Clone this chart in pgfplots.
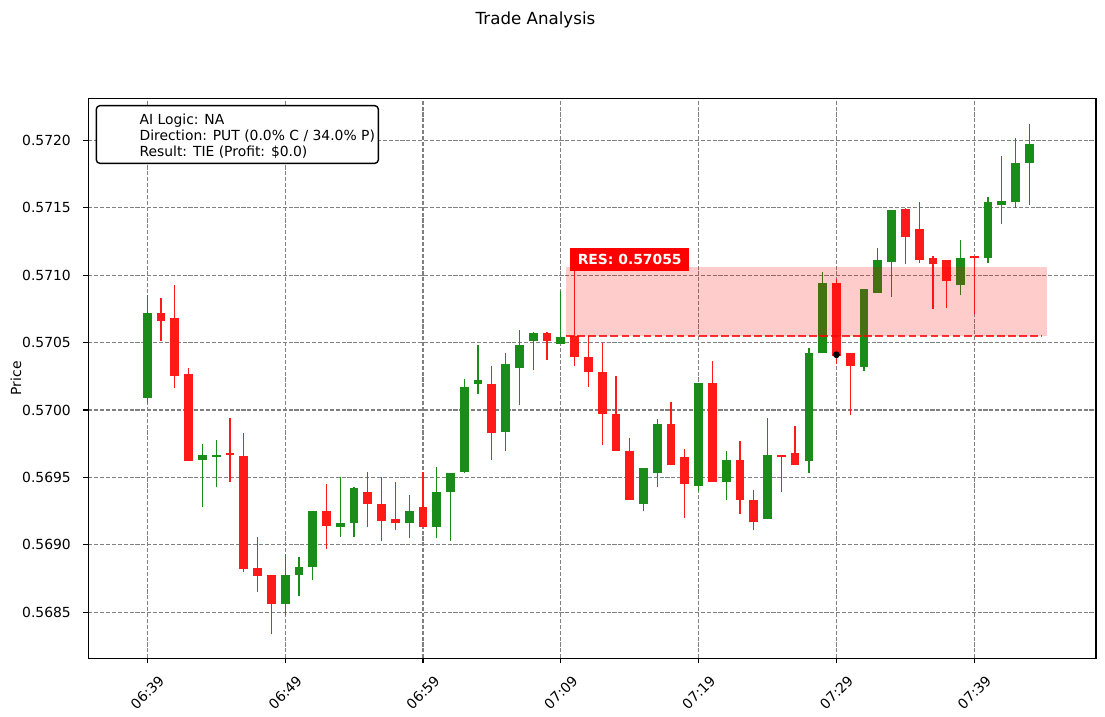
\documentclass[border=0pt]{standalone}
\usepackage{fontspec}
\setmainfont{DejaVu Sans}
\usepackage{pgfplots}
\pgfplotsset{compat=1.18}
\usepackage{pgfplotstable}
\definecolor{cgreen}{RGB}{26,140,26}
\definecolor{cred}{RGB}{255,26,26}

% t = minutes after 06:39; o h l c
\pgfplotstableread{
t o h l c
0 0.57009 0.57085 0.57005 0.57072
4 0.56963 0.56975 0.56928 0.56967
5 0.56965 0.56978 0.56943 0.56967
10 0.56856 0.56893 0.56848 0.56878
11 0.56878 0.56891 0.56862 0.56884
12 0.56884 0.56925 0.56874 0.56925
14 0.56913 0.56950 0.56906 0.56916
15 0.56916 0.56943 0.56906 0.56942
19 0.56916 0.56937 0.56905 0.56925
21 0.56913 0.56958 0.56905 0.56939
22 0.56939 0.56953 0.56903 0.56953
23 0.56954 0.57023 0.56953 0.57017
24 0.57019 0.57048 0.57012 0.57022
26 0.56984 0.57042 0.56970 0.57034
27 0.57031 0.57059 0.57004 0.57048
28 0.57051 0.57058 0.57030 0.57057
30 0.57049 0.57088 0.57049 0.57054
36 0.56930 0.56957 0.56925 0.56957
37 0.56953 0.56993 0.56943 0.56990
40 0.56944 0.57020 0.56940 0.57020
42 0.56947 0.56970 0.56933 0.56963
45 0.56919 0.56994 0.56919 0.56967
48 0.56962 0.57046 0.56953 0.57042
49 0.57042 0.57102 0.57042 0.57094
52 0.57032 0.57090 0.57029 0.57090
53 0.57087 0.57120 0.57087 0.57111
54 0.57110 0.57148 0.57084 0.57148
59 0.57093 0.57126 0.57085 0.57113
61 0.57113 0.57158 0.57109 0.57154
62 0.57152 0.57188 0.57138 0.57155
63 0.57154 0.57202 0.57150 0.57183
64 0.57183 0.57212 0.57152 0.57197
}\greentab

\pgfplotstableread{
t o h l c
1 0.57072 0.57083 0.57051 0.57066
2 0.57068 0.57093 0.57016 0.57025
3 0.57027 0.57031 0.56962 0.56962
6 0.56968 0.56994 0.56947 0.56967
7 0.56966 0.56983 0.56880 0.56882
8 0.56883 0.56906 0.56865 0.56877
9 0.56878 0.56878 0.56834 0.56856
13 0.56925 0.56945 0.56897 0.56914
16 0.56939 0.56954 0.56913 0.56930
17 0.56930 0.56950 0.56903 0.56918
18 0.56919 0.56947 0.56911 0.56916
20 0.56928 0.56954 0.56913 0.56913
25 0.57019 0.57033 0.56963 0.56983
29 0.57057 0.57058 0.57037 0.57051
31 0.57055 0.57110 0.57033 0.57039
32 0.57039 0.57055 0.57017 0.57028
33 0.57028 0.57050 0.56974 0.56997
34 0.56997 0.57025 0.56970 0.56970
35 0.56970 0.56979 0.56933 0.56933
38 0.56990 0.57006 0.56959 0.56959
39 0.56965 0.56971 0.56920 0.56945
41 0.57020 0.57036 0.56947 0.56947
43 0.56963 0.56977 0.56923 0.56933
44 0.56933 0.56941 0.56911 0.56917
46 0.56967 0.56967 0.56939 0.56965
47 0.56968 0.56988 0.56959 0.56959
50 0.57094 0.57097 0.57034 0.57040
51 0.57042 0.57042 0.56996 0.57033
55 0.57149 0.57150 0.57108 0.57128
56 0.57134 0.57154 0.57109 0.57111
57 0.57113 0.57114 0.57075 0.57108
58 0.57111 0.57111 0.57076 0.57096
60 0.57114 0.57114 0.57071 0.57113
}\redtab

\begin{document}
\begin{tikzpicture}
\begin{axis}[
  scale only axis, width=725.5bp, height=403.2bp,
  xmin=-4.28, xmax=68.83, ymin=0.568159, ymax=0.572311,
  clip=false,
  axis line style={line width=0.8bp},
  tick align=outside, major tick length=3.5bp,
  every tick/.style={line width=0.8bp, black},
  xtick pos=left, ytick pos=left,
  xtick={0,10,20,30,40,50,60},
  xticklabels={06:39,06:49,06:59,07:09,07:19,07:29,07:39},
  ytick={0.5685,0.569,0.5695,0.57,0.5705,0.571,0.5715,0.572},
  yticklabels={0.5685,0.5690,0.5695,0.5700,0.5705,0.5710,0.5715,0.5720},
  grid=major,
  major grid style={color=gray, line width=0.8bp, dash pattern=on 2.96bp off 1.28bp},
  ticklabel style={font=\fontsize{10bp}{12bp}\selectfont},
  xticklabel style={yshift=-21bp, rotate=45, anchor=center},
  yticklabel style={anchor=east, inner sep=0pt, xshift=-8.9bp},
]
% wicks
\addplot[draw=none, mark=none, forget plot,
  error bars/.cd, y dir=plus, y explicit, error mark=none,
  error bar style={draw=cgreen, line width=0.9bp}]
  table[x=t, y=l, y error expr=\thisrow{h}-\thisrow{l}] {\greentab};
\addplot[draw=none, mark=none, forget plot,
  error bars/.cd, y dir=plus, y explicit, error mark=none,
  error bar style={draw=cred, line width=0.9bp}]
  table[x=t, y=l, y error expr=\thisrow{h}-\thisrow{l}] {\redtab};
% bodies
\addplot[draw=none, mark=none, forget plot,
  error bars/.cd, y dir=plus, y explicit, error mark=none,
  error bar style={draw=cgreen, line width=6.3bp}]
  table[x=t, y=o, y error expr=\thisrow{c}-\thisrow{o}] {\greentab};
\addplot[draw=none, mark=none, forget plot,
  error bars/.cd, y dir=plus, y explicit, error mark=none,
  error bar style={draw=cred, line width=6.3bp}]
  table[x=t, y=c, y error expr=\thisrow{o}-\thisrow{c}] {\redtab};
% result zone
\addplot[fill=red, fill opacity=0.2, draw=none, forget plot]
  coordinates {(30.4,0.57055) (65.25,0.57055) (65.25,0.57106) (30.4,0.57106)};
\addplot[red, opacity=0.8, line width=1.5bp, dash pattern=on 5.55bp off 2.4bp, forget plot]
  coordinates {(30.4,0.57055) (64.9,0.57055)};
% entry marker
\addplot[only marks, mark=*, mark size=2.2bp, black, forget plot]
  coordinates {(50,0.57041)};

\node[fill=red, text=white, font=\bfseries\fontsize{10bp}{12bp}\selectfont,
  anchor=west, inner xsep=5.4bp, inner ysep=4.3bp, text height=7.5bp, text depth=0.5bp]
  at (axis cs:30.67,0.571116) {RES: 0.57055};

\node[draw=black, line width=1bp, rounded corners=2.5bp, fill=white,
  minimum width=203bp, minimum height=41.5bp, anchor=north west, inner sep=0pt]
  (leg) at ([xshift=5.3bp,yshift=-4.8bp]rel axis cs:0,1) {};
\node[anchor=west, align=left, inner sep=0pt, font=\fontsize{10bp}{11.4bp}\selectfont]
  at ([xshift=31.4bp,yshift=-1.3bp]leg.west) {AI Logic: NA\\Direction: PUT (0.0\% C / 34.0\% P)\\Result: TIE (Profit: \$0.0)};

\node[font=\fontsize{12bp}{14bp}\selectfont] at ([xshift=322bp,yshift=56.4bp]rel axis cs:0,1) {Trade Analysis};
\node[rotate=90, font=\fontsize{10bp}{12bp}\selectfont] at ([xshift=-52.1bp]rel axis cs:0,0.5) {Price};
\end{axis}
\path (-63.58bp,-41.54bp) rectangle (732bp,474bp);
\end{tikzpicture}
\end{document}
